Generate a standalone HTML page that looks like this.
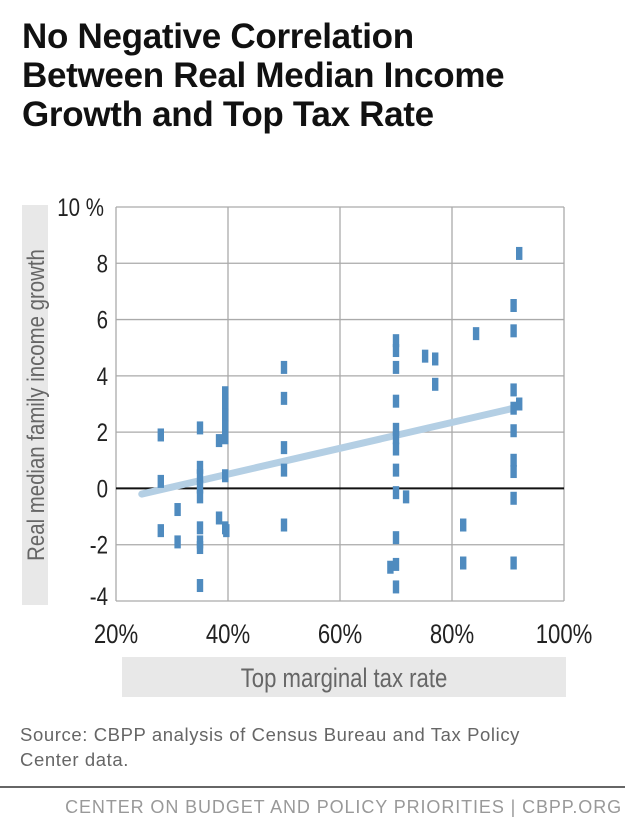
<!DOCTYPE html>
<html><head><meta charset="utf-8"><style>
body{margin:0;width:625px;height:836px;background:#fff;font-family:"Liberation Sans",sans-serif;overflow:hidden;position:relative}
#title{position:absolute;left:22px;top:17px;font-size:35px;line-height:39px;font-weight:bold;color:#111;letter-spacing:-0.3px}
#src{position:absolute;left:20px;top:722px;font-size:18.5px;line-height:25px;color:#666;letter-spacing:0.6px}
#rule{position:absolute;left:0;top:786px;width:625px;height:2px;background:#666}
#foot{position:absolute;right:3px;top:797px;font-size:18px;color:#999;letter-spacing:0.9px}
svg{position:absolute;left:0;top:0}
</style></head><body>
<div id="title">No Negative Correlation<br>Between Real Median Income<br>Growth and Top Tax Rate</div>
<svg id="chart" width="625" height="720"></svg>
<div id="src">Source: CBPP analysis of Census Bureau and Tax Policy<br>Center data.</div>
<div id="rule"></div>
<div id="foot">CENTER ON BUDGET AND POLICY PRIORITIES | CBPP.ORG</div>
<script>
const xTicks=[20,40,60,80,100];
const yTicks=[-4,-2,0,2,4,6,8,10];
const xVals=[28,28,28,31,31,35,35,35,35,35,35,35,35,35,38.4,38.4,39.5,39.5,39.5,39.5,39.5,39.5,39.5,39.7,50,50,50,50,50,70,70,70,70,70,70,70,70,70,70,70,70,69,71.8,75.2,77,77,82,82,84.3,91,91,91,91,91,91,91,91,91,92,92];
const yVals=[1.9,0.25,-1.5,-0.75,-1.9,2.15,0.75,0.45,0.05,-0.3,-1.4,-1.9,-2.1,-3.45,1.7,-1.05,3.4,3.0,2.6,2.2,1.8,0.45,-1.4,-1.5,4.3,3.2,1.45,0.65,-1.3,5.25,4.9,4.3,3.1,2.1,1.8,1.4,0.65,-0.15,-1.75,-2.7,-3.5,-2.8,-0.3,4.7,4.6,3.7,-1.3,-2.65,5.5,6.5,5.6,3.5,2.85,2.05,1.0,0.6,-0.35,-2.65,8.35,3.0];
const trendX=[24.6,91];
const trendY=[-0.2,2.85];
const NS='http://www.w3.org/2000/svg';
const svg=document.getElementById('chart');
const X0=116,X1=564,Y0=601,Y1=207;
const xs=v=>X0+(v-20)/80*(X1-X0);
const ys=v=>Y0-(v+4)/14*(Y0-Y1);
function mk(t,a){const e=document.createElementNS(NS,t);for(const k in a)e.setAttribute(k,a[k]);svg.appendChild(e);return e;}
let r=mk('rect',{x:22,y:205,width:26,height:400,fill:'#e8e8e8'});


let t=mk('text',{x:0,y:0,'font-size':24,fill:'#666','text-anchor':'middle',transform:'translate(44,405) rotate(-90) scale(0.85,1)'});
t.textContent='Real median family income growth';


r=mk('rect',{x:122,y:657,width:444,height:40,fill:'#e8e8e8'});


t=mk('text',{x:0,y:0,'font-size':27,fill:'#666','text-anchor':'middle',transform:'translate(344,687) scale(0.82,1)'});
t.textContent='Top marginal tax rate';


yTicks.forEach(v=>{
 if(v!==0){const l=mk('line',{x1:X0,x2:X1,y1:ys(v),y2:ys(v),stroke:'#aaa','stroke-width':1.3});
 
 }
 const tx=mk('text',{x:0,y:0,'font-size':25,fill:'#222','text-anchor':'end',transform:`translate(${v===10?104:108},${ys(v)+(v===-4?4:9)}) scale(0.82,1)`});
 tx.textContent=v===10?'10 %':String(v);
 
 
});
xTicks.forEach(v=>{
 const l=mk('line',{x1:xs(v),x2:xs(v),y1:Y1,y2:Y0,stroke:'#aaa','stroke-width':1.3});
 
 
 const tx=mk('text',{x:0,y:0,'font-size':27,fill:'#222','text-anchor':'middle',transform:`translate(${xs(v)},${643}) scale(0.82,1)`});
 tx.textContent=v+'%';
 
 
});
let z=mk('line',{x1:X0,x2:X1,y1:ys(0),y2:ys(0),stroke:'#111','stroke-width':2});


let tr=mk('line',{x1:xs(trendX[0]),y1:ys(trendY[0]),x2:xs(trendX[1]),y2:ys(trendY[1]),stroke:'#b4cfe4','stroke-width':7,'stroke-linecap':'round'});


xVals.forEach((xv,i)=>{
 const p=mk('rect',{x:xs(xv)-3.2,y:ys(yVals[i])-6.5,width:6.4,height:13,fill:'#4f8bbf'});
 
 
});
</script>
</body></html>
